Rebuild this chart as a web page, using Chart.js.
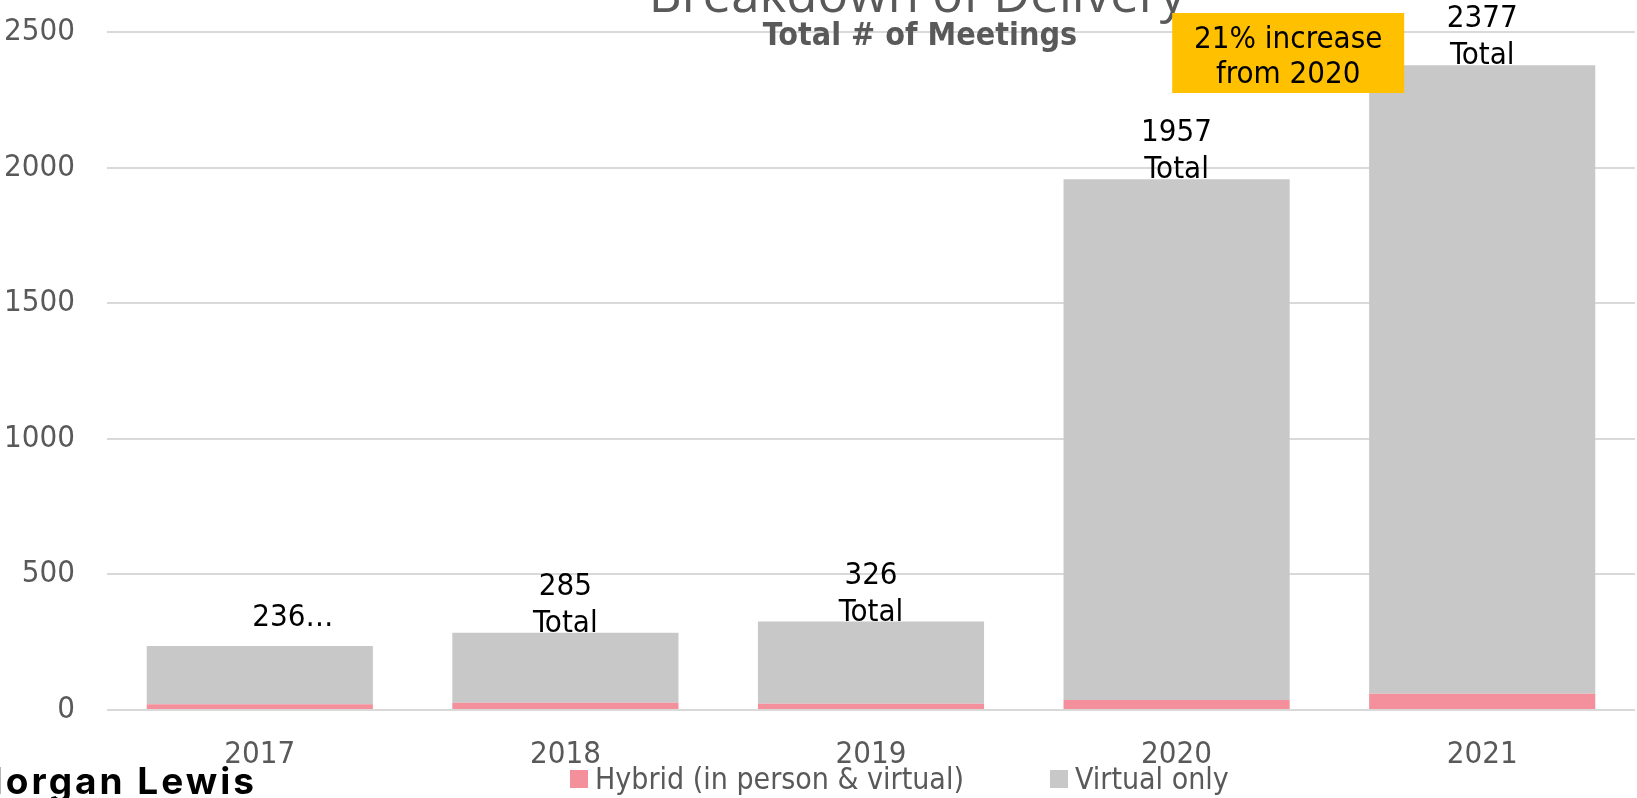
<!DOCTYPE html>
<html>
<head>
<meta charset="utf-8">
<script src="https://cdn.jsdelivr.net/npm/chart.js@4.4.1/dist/chart.umd.min.js"></script>
<style>
    html, body { margin: 0; padding: 0; background: #ffffff; }
</style>
</head>
<body>
<canvas id="meetings-chart" width="1637" height="798"></canvas>
<script>
const years = ['2017', '2018', '2019', '2020', '2021'];
const hybrid_values = [21, 27, 23, 37, 60];
const virtual_values = [215, 258, 303, 1920, 2317];
const total_labels = [['236…'], ['285', 'Total'], ['326', 'Total'], ['1957', 'Total'], ['2377', 'Total']];
const y_ticks = [0, 500, 1000, 1500, 2000, 2500];
const series_names = ['Hybrid (in person & virtual)', 'Virtual only'];
const series_colors = ['#f48f9c', '#c8c8c8'];

const font_family = '"DejaVu Sans Condensed", "Liberation Sans Narrow", "DejaVu Sans", sans-serif';
const text_gray = '#595959';

const meetings_chart = document.getElementById('meetings-chart');

// titles, totals, callout box, legend and logo
const meetings_extras_plugin = {
    id: 'meetings_extras',
    afterDraw(chart) {
        const ctx = chart.ctx;
        const x_scale = chart.scales.x;
        const top_meta = chart.getDatasetMeta(1);

        ctx.save();

        // main title, cut off at the top of the picture
        ctx.fillStyle = text_gray;
        ctx.font = '51px "Open Sans", sans-serif';
        ctx.textAlign = 'center';
        ctx.textBaseline = 'alphabetic';
        ctx.fillText('Breakdown of Delivery', 917, 12);

        // sub title
        ctx.font = 'bold 32px ' + font_family;
        ctx.textBaseline = 'middle';
        ctx.fillText('Total # of Meetings', 920, 37);

        // total labels above each bar
        ctx.fillStyle = '#000000';
        ctx.font = '31px ' + font_family;
        top_meta.data.forEach((bar, i) => {
            const lines = total_labels[i];
            if (lines.length === 1) {
                ctx.fillText(lines[0], bar.x + 33, bar.y - 28);
            } else {
                ctx.fillText(lines[0], bar.x, bar.y - 46);
                ctx.fillText(lines[1], bar.x, bar.y - 9);
            }
        });

        // callout
        const box_right = x_scale.getPixelForValue(4) - 78;
        ctx.fillStyle = '#ffc000';
        ctx.fillRect(box_right - 232, 13, 232, 80);
        ctx.fillStyle = '#000000';
        ctx.fillText('21% increase', box_right - 116, 40);
        ctx.fillText('from 2020', box_right - 116, 75);

        // legend
        const legend_x = [570, 1050];
        ctx.font = '30px ' + font_family;
        ctx.textAlign = 'left';
        series_names.forEach((name, i) => {
            ctx.fillStyle = series_colors[i];
            ctx.fillRect(legend_x[i], 770, 18, 18);
            ctx.fillStyle = text_gray;
            ctx.fillText(name, legend_x[i] + 25, 781);
        });

        // logo, partly off the left edge
        ctx.fillStyle = '#000000';
        ctx.font = '700 37px Inter, "Noto Sans", sans-serif';
        ctx.letterSpacing = '3px';
        ctx.textAlign = 'right';
        ctx.textBaseline = 'alphabetic';
        ctx.fillText('Morgan Lewis', 257, 794);

        ctx.restore();
    }
};

new Chart(meetings_chart, {
    type: 'bar',
    data: {
        labels: years,
        datasets: [
            {
                label: series_names[0],
                data: hybrid_values,
                backgroundColor: series_colors[0],
                categoryPercentage: 0.74,
                barPercentage: 1
            },
            {
                label: series_names[1],
                data: virtual_values,
                backgroundColor: series_colors[1],
                categoryPercentage: 0.74,
                barPercentage: 1
            }
        ]
    },
    options: {
        responsive: false,
        animation: false,
        events: [],
        layout: {
            padding: { top: 32, right: 2, left: 0, bottom: 0 }
        },
        plugins: {
            legend: { display: false },
            title: { display: false },
            tooltip: { enabled: false }
        },
        scales: {
            x: {
                stacked: true,
                grid: { display: false },
                border: { display: false },
                ticks: {
                    color: text_gray,
                    font: { family: font_family, size: 31 },
                    padding: 18
                },
                afterFit: (scale) => {
                    scale.height = 88;
                    scale.paddingLeft = 0;
                    scale.paddingRight = 0;
                }
            },
            y: {
                stacked: true,
                min: y_ticks[0],
                max: y_ticks[y_ticks.length - 1],
                afterBuildTicks: (scale) => {
                    scale.ticks = y_ticks.map(v => ({ value: v }));
                },
                grid: { color: '#d9d9d9', lineWidth: 2, drawTicks: false },
                border: { display: false },
                ticks: {
                    color: text_gray,
                    font: { family: font_family, size: 31 },
                    padding: 32,
                    callback: (value) => String(value)
                },
                afterFit: (scale) => {
                    scale.width = 107;
                    scale.paddingTop = 0;
                    scale.paddingBottom = 0;
                }
            }
        }
    },
    plugins: [meetings_extras_plugin]
});
</script>
</body>
</html>
